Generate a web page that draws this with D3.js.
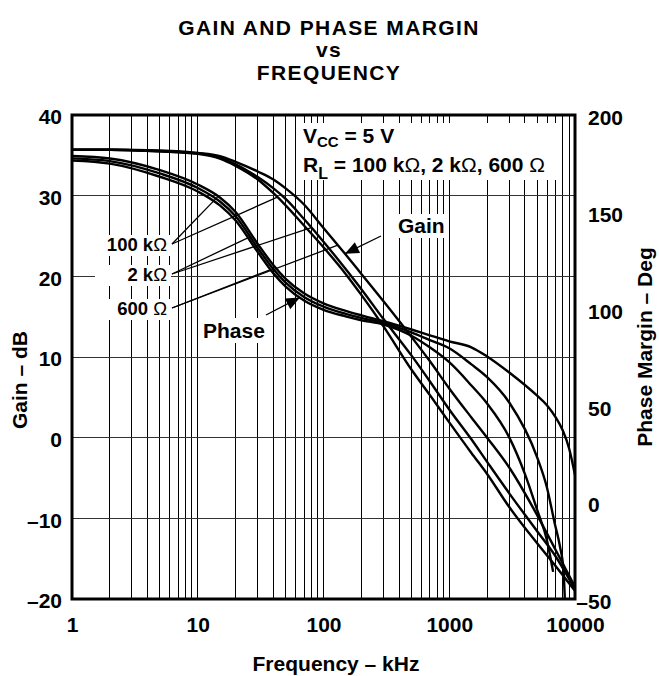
<!DOCTYPE html>
<html><head><meta charset="utf-8">
<script src="https://cdn.jsdelivr.net/npm/d3@7"></script>
<style>
body{margin:0;background:#fff}
svg text{font-family:"Liberation Sans",Arial,Helvetica,sans-serif;font-weight:bold;fill:#000}
</style>
</head><body>
<svg id="c" width="659" height="676"></svg>
<script>
// ---------------- data ----------------
const titleLines = ["GAIN AND PHASE MARGIN", "vs", "FREQUENCY"];
const xTickVals = [1, 10, 100, 1000, 10000];
const gainTickVals = [-20, -10, 0, 10, 20, 30, 40];
const phaseTickVals = [-50, 0, 50, 100, 150, 200];
const loadLabels = ["100 k", "2 k", "600 "];

// frequency in kHz
const gainFreq = [1,2,5,10,15,20,30,40,50,70,100,150,200,300,500,700,1000,1500,2000,3000,5000,7000,10000];
// gain in dB
const gainA = [35.7,35.7,35.5,35.2,34.6,33.7,32.0,30.3,28.8,26.3,23.6,20.3,17.7,13.8,8.45,5.3,1.9,-1.9,-4.5,-8.6,-13.1,-15.9,-19.0];
const gainB = [35.7,35.7,35.5,35.25,34.7,33.9,32.3,30.9,29.6,27.1,24.3,20.9,18.4,14.7,10.2,7.0,3.5,-0.2,-3.0,-6.9,-11.6,-14.7,-18.8];
const gainC = [35.7,35.7,35.6,35.3,34.9,34.2,33.0,32.0,30.9,28.9,26.0,22.7,20.3,16.9,12.5,9.5,6.1,2.5,0,-3.7,-9.6,-13.9,-18.5];

// phase margin in degrees
const phaseTopFreq = [1,2,5,10,15,20,30,40,50,70,100,150,200,300,500,700,1000,1500,2000,3000,5000,6000,7000,8000,9000,10000];
const phaseTop = [178.8,177.5,171.5,164.1,157.4,149.9,133.4,122.4,115.4,107.9,102.7,98.8,96.5,93.5,89.2,86.2,83.1,80.0,75.3,67,55,50,44,37,27.5,14];
const phaseMidFreq = [1,2,5,10,15,20,30,40,50,70,100,150,200,300,500,700,1000,1500,2000,3000,5000,5960,6900,7600,8100,8300];
const phaseMid = [177.6,176.2,169.8,162.3,155.3,147.7,131.3,120.3,113.4,106.0,101.0,97.3,95.2,92.6,87.7,83.7,79.5,71.2,64.6,51.5,23.2,8,-11,-23,-35,-50];
const phaseLowFreq = [1,2,5,10,15,20,30,40,50,70,100,150,200,300,500,700,1000,1500,2000,3000,4000,5000,6000,6700];
const phaseLow = [176.5,174.9,168.1,160.5,153.3,145.5,129.2,118.2,111.4,104.2,99.4,96,94,91.8,86,80,72.3,60.3,51,33.5,14.5,-4,-20,-36];

// ---------------- chart ----------------
const FONT = '"Liberation Sans",Arial,Helvetica,sans-serif';
const X0 = 72, X1 = 575, Y0 = 115, Y1 = 599;
const svg = d3.select("#c");
const x = d3.scaleLog().domain([1, 10000]).range([X0, X1]);
const yG = d3.scaleLinear().domain([-20, 40]).range([Y1, Y0]);
const yP = d3.scaleLinear().domain([-50, 200]).range([Y1, Y0]);

const series = [
  {f: gainFreq, v: gainA, y: yG},
  {f: gainFreq, v: gainB, y: yG},
  {f: gainFreq, v: gainC, y: yG},
  {f: phaseTopFreq, v: phaseTop, y: yP},
  {f: phaseMidFreq, v: phaseMid, y: yP},
  {f: phaseLowFreq, v: phaseLow, y: yP}
];
function valAt(s, f) {
  const lf = Math.log10(f);
  for (let i = 0; i < s.f.length - 1; i++) {
    const a = Math.log10(s.f[i]), b = Math.log10(s.f[i + 1]);
    if (lf >= a && lf <= b) return s.v[i] + (s.v[i + 1] - s.v[i]) * (lf - a) / (b - a);
  }
  return s.v[s.v.length - 1];
}
function pt(si, f) { const s = series[si]; return [x(f), s.y(valAt(s, f))]; }

// grid
const grid = svg.append("g").attr("shape-rendering", "crispEdges");
grid.selectAll("line.v").data(x.ticks().filter(d => d > 1 && d < 10000)).join("line")
  .attr("class", "v")
  .attr("x1", d => x(d)).attr("x2", d => x(d)).attr("y1", Y0).attr("y2", Y1)
  .attr("stroke", "#000").attr("stroke-width", 1);
grid.selectAll("line.h").data(gainTickVals.filter(d => d > -20 && d < 40)).join("line")
  .attr("class", "h")
  .attr("x1", X0).attr("x2", X1).attr("y1", d => yG(d)).attr("y2", d => yG(d))
  .attr("stroke", "#333").attr("stroke-width", 1);

// white boxes behind annotations
const boxes = [
  [298, 123, 258, 57],
  [394, 214, 55, 24],
  [198, 318, 74, 25],
  [95, 235, 76, 21],
  [95, 265, 76, 21],
  [95, 299, 76, 21]
];
svg.append("g").selectAll("rect").data(boxes).join("rect")
  .attr("x", d => d[0]).attr("y", d => d[1]).attr("width", d => d[2]).attr("height", d => d[3])
  .attr("fill", "#fff");

// curves
const line = d3.line().curve(d3.curveMonotoneX);
svg.append("g").selectAll("path").data(series).join("path")
  .attr("d", s => line(s.f.map((f, i) => [x(f), s.y(s.v[i])])))
  .attr("fill", "none").attr("stroke", "#000").attr("stroke-width", 2.4)
  .attr("stroke-linejoin", "round");

// frame
svg.append("rect").attr("x", X0).attr("y", Y0).attr("width", X1 - X0).attr("height", Y1 - Y0)
  .attr("fill", "none").attr("stroke", "#000").attr("stroke-width", 3);

// axes
const fmt = d => d < 0 ? "\u2013" + (-d) : String(d);
function styleAxis(g) {
  g.attr("font-family", FONT).attr("font-size", 21).attr("font-weight", "bold");
  g.select(".domain").remove();
  g.selectAll("text").attr("fill", "#000");
}
svg.append("g").attr("transform", `translate(0,${Y1})`)
  .call(d3.axisBottom(x).tickValues(xTickVals).tickFormat(d3.format("d")).tickSize(0).tickPadding(18))
  .call(styleAxis);
svg.append("g").attr("transform", `translate(${X0},2)`)
  .call(d3.axisLeft(yG).tickValues(gainTickVals).tickFormat(fmt).tickSize(0).tickPadding(10))
  .call(styleAxis);
const ra = svg.append("g").attr("transform", `translate(${X1},3)`)
  .call(d3.axisRight(yP).tickValues(phaseTickVals).tickFormat(fmt).tickSize(0).tickPadding(13))
  .call(styleAxis);
ra.selectAll("text").attr("x", d => d < 0 ? 1.3 : 13);

// titles
svg.append("g").selectAll("text").data(titleLines).join("text")
  .attr("x", 329).attr("y", (d, i) => [35, 57, 80][i])
  .attr("text-anchor", "middle").attr("font-size", 21).attr("letter-spacing", 1.4)
  .text(d => d);
svg.append("text").attr("transform", "translate(27,380) rotate(-90)")
  .attr("text-anchor", "middle").attr("font-size", 21).text("Gain \u2013 dB");
svg.append("text").attr("transform", "translate(652,347) rotate(-90)")
  .attr("text-anchor", "middle").attr("font-size", 21).text("Phase Margin \u2013 Deg");
svg.append("text").attr("x", 336).attr("y", 671)
  .attr("text-anchor", "middle").attr("font-size", 21).text("Frequency \u2013 kHz");

// conditions
const t1 = svg.append("text").attr("x", 303).attr("y", 143).attr("font-size", 21);
t1.append("tspan").text("V");
t1.append("tspan").attr("font-size", 15).attr("dy", 4).text("CC");
t1.append("tspan").attr("dy", -4).text(" = 5 V");
const t2 = svg.append("text").attr("x", 303).attr("y", 172).attr("font-size", 21);
t2.append("tspan").text("R");
t2.append("tspan").attr("font-size", 16).attr("dy", 7).text("L");
t2.append("tspan").attr("dy", -7).text(" = 100 k");
t2.append("tspan").attr("font-weight", "normal").text("\u03A9");
t2.append("tspan").text(", 2 k");
t2.append("tspan").attr("font-weight", "normal").text("\u03A9");
t2.append("tspan").text(", 600 ");
t2.append("tspan").attr("font-weight", "normal").text("\u03A9");

// load labels with leaders
const labelBase = [251, 281, 315];
loadLabels.forEach((lab, i) => {
  const t = svg.append("text").attr("x", 167).attr("y", labelBase[i]).attr("text-anchor", "end").attr("font-size", 18.5);
  t.append("tspan").text(lab);
  t.append("tspan").attr("font-weight", "normal").text("\u03A9");
});
const leaders = [
  [0, 3, 14.5], [0, 0, 43],
  [1, 4, 26], [1, 1, 80],
  [2, 5, 38], [2, 2, 130]
];
svg.append("g").selectAll("line").data(leaders).join("line")
  .attr("x1", 172).attr("y1", d => labelBase[d[0]] - 7)
  .attr("x2", d => pt(d[1], d[2])[0]).attr("y2", d => pt(d[1], d[2])[1])
  .attr("stroke", "#000").attr("stroke-width", 1.3);

// Gain / Phase call-outs with arrowheads
function arrow(from, to) {
  svg.append("line").attr("x1", from[0]).attr("y1", from[1]).attr("x2", to[0]).attr("y2", to[1])
    .attr("stroke", "#000").attr("stroke-width", 1.3);
  const dx = to[0] - from[0], dy = to[1] - from[1], L = Math.hypot(dx, dy);
  const ux = dx / L, uy = dy / L, len = 14, hw = 6;
  const bx = to[0] - ux * len, by = to[1] - uy * len;
  svg.append("path")
    .attr("d", `M${to[0]},${to[1]}L${bx - uy * hw},${by + ux * hw}L${bx + uy * hw},${by - ux * hw}Z`)
    .attr("fill", "#000");
}
svg.append("text").attr("x", 398).attr("y", 233).attr("font-size", 21).text("Gain");
arrow([381, 236], pt(2, 148));
svg.append("text").attr("x", 203).attr("y", 338).attr("font-size", 21).text("Phase");
arrow([266, 315], pt(5, 65));
</script>
</body></html>
